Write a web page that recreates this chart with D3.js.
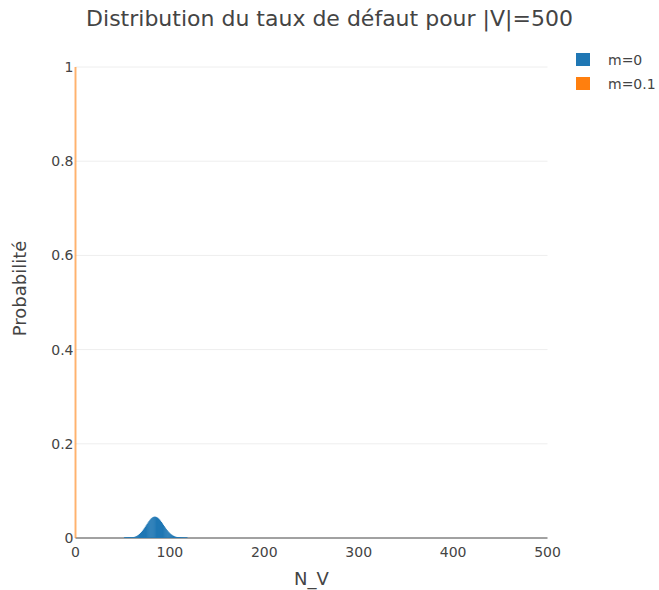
<!DOCTYPE html>
<html>
<head>
<meta charset="utf-8">
<script src="https://cdn.jsdelivr.net/npm/d3@7"></script>
<style>
  html, body { margin: 0; padding: 0; background: #fff; }
  svg { display: block; font-family: "DejaVu Sans", Verdana, sans-serif; }
</style>
</head>
<body>
<svg id="chart" width="659" height="590"></svg>
<script>
// Distribution of N_V for m=0 (integer support)
const nvM0 = d3.range(52, 119);
const probM0 = [
  0.0015, 0.0016, 0.0017, 0.0017, 0.0018, 0.0018, 0.0019, 0.0019,        // 52-59
  0.0020, 0.0021, 0.0022, 0.0026, 0.0034, 0.0044, 0.0056, 0.0070,        // 60-67
  0.0087, 0.0106, 0.0128, 0.0152, 0.0179, 0.0207, 0.0238, 0.0269,        // 68-75
  0.0300, 0.0330, 0.0359, 0.0386, 0.0409, 0.0427, 0.0441, 0.0450,        // 76-83
  0.0453, 0.0450, 0.0442, 0.0430, 0.0413, 0.0392, 0.0367, 0.0340,        // 84-91
  0.0311, 0.0281, 0.0251, 0.0222, 0.0194, 0.0168, 0.0143, 0.0121,        // 92-99
  0.0101, 0.0083, 0.0068, 0.0055, 0.0044, 0.0035, 0.0027, 0.0023,        // 100-107
  0.0021, 0.0020, 0.0019, 0.0019, 0.0018, 0.0018, 0.0017, 0.0017,        // 108-115
  0.0016, 0.0016, 0.0015                                                 // 116-118
];

// Distribution for m=0.1: all the mass at N_V = 0
const nvM01 = [0];
const probM01 = [1];

const seriesNames = ["m=0", "m=0.1"];
const seriesColors = ["#1f77b4", "#ff7f0e"];

const xTicks = [0, 100, 200, 300, 400, 500];
const yTicks = [0, 0.2, 0.4, 0.6, 0.8, 1];
const yTickLabels = ["0", "0.2", "0.4", "0.6", "0.8", "1"];

const svg = d3.select("#chart");
const plot = { left: 75.5, right: 547.5, top: 67, bottom: 538 };

const x = d3.scaleLinear().domain([0, 500]).range([plot.left, plot.right]);
const y = d3.scaleLinear().domain([0, 1]).range([plot.bottom, plot.top]);

// Horizontal gridlines
svg.append("g")
  .selectAll("line")
  .data(yTicks.filter(t => t !== 0))
  .join("line")
  .attr("x1", plot.left).attr("x2", plot.right)
  .attr("y1", d => y(d)).attr("y2", d => y(d))
  .attr("stroke", "#eee").attr("stroke-width", 1);

// Zero line along the x axis
svg.append("line")
  .attr("x1", plot.left).attr("x2", plot.right)
  .attr("y1", y(0)).attr("y2", y(0))
  .attr("stroke", "#444").attr("stroke-width", 1);

// Bars
const unit = x(1) - x(0);
function drawBars(cats, vals, color, opacity, pad) {
  svg.append("g")
    .attr("fill-opacity", opacity)
    .selectAll("rect")
    .data(cats.map((c, i) => ({ c, v: vals[i] })))
    .join("rect")
    .attr("x", d => x(d.c - 0.5) - pad)
    .attr("width", unit + 2 * pad)
    .attr("y", d => y(d.v))
    .attr("height", d => y(0) - y(d.v))
    .attr("fill", color);
}
drawBars(nvM0, probM0, seriesColors[0], 1, 0.2);
drawBars(nvM01, probM01, seriesColors[1], 0.6, 0.5);

// Axis tick labels
const axisG = svg.append("g").attr("fill", "#444").attr("font-size", 14);
axisG.selectAll(".xt")
  .data(xTicks)
  .join("text")
  .attr("class", "xt")
  .attr("x", d => x(d))
  .attr("y", y(0) + 19)
  .attr("text-anchor", "middle")
  .text(d => d);
axisG.selectAll(".yt")
  .data(yTicks)
  .join("text")
  .attr("class", "yt")
  .attr("x", plot.left - 2)
  .attr("y", d => y(d) + 5)
  .attr("text-anchor", "end")
  .text((d, i) => yTickLabels[i]);

// Titles
svg.append("text")
  .attr("x", 329.5).attr("y", 26)
  .attr("text-anchor", "middle")
  .attr("font-size", 22)
  .attr("fill", "#444")
  .text("Distribution du taux de défaut pour |V|=500");

svg.append("text")
  .attr("x", (plot.left + plot.right) / 2).attr("y", 585)
  .attr("text-anchor", "middle")
  .attr("font-size", 18)
  .attr("fill", "#444")
  .text("N_V");

svg.append("text")
  .attr("transform", `translate(26, ${(plot.top + plot.bottom) / 2 - 14}) rotate(-90)`)
  .attr("text-anchor", "middle")
  .attr("font-size", 18)
  .attr("fill", "#444")
  .text("Probabilité");

// Legend
const legend = svg.append("g").attr("transform", "translate(576, 53)");
const items = legend.selectAll("g")
  .data(seriesNames)
  .join("g")
  .attr("transform", (d, i) => `translate(0, ${i * 24})`);
items.append("rect")
  .attr("width", 14).attr("height", 13)
  .attr("fill", (d, i) => seriesColors[i]);
items.append("text")
  .attr("x", 32).attr("y", 11.5)
  .attr("font-size", 14)
  .attr("fill", "#444")
  .text(d => d);
</script>
</body>
</html>
